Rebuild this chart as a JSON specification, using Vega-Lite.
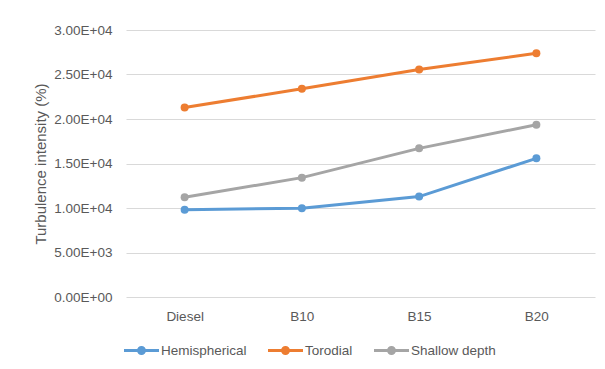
{
  "$schema": "https://vega.github.io/schema/vega-lite/v6.json",
  "width": 469,
  "height": 267,
  "autosize": {"type": "none"},
  "padding": {"left": 126, "top": 30, "right": 10, "bottom": 72},
  "background": "white",
  "config": {
    "view": {"stroke": null},
    "font": "Liberation Sans",
    "axis": {"labelFont": "Liberation Sans", "titleFont": "Liberation Sans"}
  },
  "data": {
    "values": [
      {"fuel": "Diesel", "chamber": "Hemispherical", "ti": 9790},
      {"fuel": "B10", "chamber": "Hemispherical", "ti": 9980},
      {"fuel": "B15", "chamber": "Hemispherical", "ti": 11280},
      {"fuel": "B20", "chamber": "Hemispherical", "ti": 15580},
      {"fuel": "Diesel", "chamber": "Torodial", "ti": 21300},
      {"fuel": "B10", "chamber": "Torodial", "ti": 23390},
      {"fuel": "B15", "chamber": "Torodial", "ti": 25560},
      {"fuel": "B20", "chamber": "Torodial", "ti": 27390},
      {"fuel": "Diesel", "chamber": "Shallow depth", "ti": 11210},
      {"fuel": "B10", "chamber": "Shallow depth", "ti": 13410},
      {"fuel": "B15", "chamber": "Shallow depth", "ti": 16700},
      {"fuel": "B20", "chamber": "Shallow depth", "ti": 19350}
    ]
  },
  "mark": {
    "type": "line",
    "strokeWidth": 3,
    "point": {"filled": true, "size": 64, "opacity": 1}
  },
  "encoding": {
    "x": {
      "field": "fuel",
      "type": "nominal",
      "sort": ["Diesel", "B10", "B15", "B20"],
      "scale": {"type": "point", "padding": 0.5},
      "axis": {
        "title": null,
        "labelAngle": 0,
        "labelFontSize": 13.5,
        "labelColor": "#595959",
        "labelPadding": 12,
        "ticks": false,
        "domain": false,
        "grid": false
      }
    },
    "y": {
      "field": "ti",
      "type": "quantitative",
      "scale": {"domain": [0, 30000], "nice": false},
      "axis": {
        "title": "Turbulence intensity (%)",
        "titleFontSize": 15,
        "titleFontWeight": "normal",
        "titleColor": "#595959",
        "titlePadding": 5,
        "values": [0, 5000, 10000, 15000, 20000, 25000, 30000],
        "labelExpr": "replace(replace(format(datum.value, '.2e'), 'e+', 'E+0'), 'e-', 'E-0')",
        "labelFontSize": 13.5,
        "labelColor": "#595959",
        "labelPadding": 14,
        "ticks": false,
        "domain": false,
        "gridColor": "#D9D9D9",
        "gridWidth": 1
      }
    },
    "color": {
      "field": "chamber",
      "type": "nominal",
      "scale": {
        "domain": ["Hemispherical", "Torodial", "Shallow depth"],
        "range": ["#5B9BD5", "#ED7D31", "#A5A5A5"]
      },
      "legend": {
        "title": null,
        "orient": "none",
        "direction": "horizontal",
        "legendX": -2,
        "legendY": 303,
        "symbolType": "M-1,-0.086L1,-0.086L1,0.086L-1,0.086Z M0.257,0A0.257,0.257,0,1,1,-0.257,0A0.257,0.257,0,1,1,0.257,0Z",
        "symbolSize": 1225,
        "symbolStrokeWidth": 0,
        "labelFontSize": 13.5,
        "labelColor": "#595959",
        "labelOffset": 2,
        "columnPadding": 21,
        "encode": {
          "symbols": {
            "update": {
              "fill": {"scale": "color", "field": "value"},
              "stroke": {"value": "transparent"},
              "opacity": {"value": 1}
            }
          }
        }
      }
    }
  }
}
